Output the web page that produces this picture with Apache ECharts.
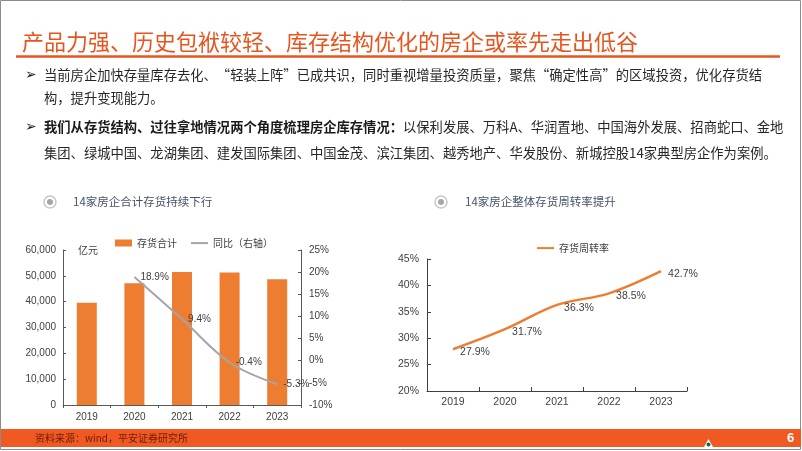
<!DOCTYPE html>
<html><head><meta charset="utf-8">
<script src="https://cdn.jsdelivr.net/npm/echarts@6/dist/echarts.min.js"></script>
<style>html,body{margin:0;padding:0;background:#fff;}#c{width:802px;height:451px;}</style>
</head><body><div id="c"></div>
<script>
// ---- data ----
var years = ['2019', '2020', '2021', '2022', '2023'];
var inventoryTotal = [39600, 47100, 51500, 51300, 48700];   // 亿元
var inventoryYoY = [null, 18.9, 9.4, -0.4, -5.3];            // %
var turnoverRate = [27.9, 31.7, 36.3, 38.5, 42.7];           // %
var leftTicks = { min: 0, max: 60000, interval: 10000 };
var rightTicks = { min: -10, max: 25, interval: 5 };
var turnTicks = { min: 20, max: 45, interval: 5 };

var FONT = '"Liberation Sans", "Noto Sans CJK SC", sans-serif';
var CJK = '"Noto Sans CJK SC", sans-serif';
var ORANGE = '#ED7D31';
var AXIS = '#595959';
var LINE_ICON = 'path://M0,0 M0,2.6 L17,2.6 L17,4.6 L0,4.6 Z M17,7';

var chart = echarts.init(document.getElementById('c'), null, { renderer: 'canvas' });

function txt(x, y, text, style) {
  return { type: 'text', x: x, y: y, style: Object.assign({ text: text, fontFamily: CJK, fontSize: 13, fill: '#262626', verticalAlign: 'middle' }, style || {}) };
}

var graphics = [
  // page border
  { type: 'rect', shape: { x: 0.5, y: 0.5, width: 800, height: 449 }, style: { fill: 'none', stroke: '#8c8c8c', lineWidth: 1 }, z: 0 },
  // title
  txt(22, 42, '产品力强、历史包袱较轻、库存结构优化的房企或率先走出低谷', { fontSize: 22, fill: '#E8541E' }),
  { type: 'line', shape: { x1: 16, y1: 56.5, x2: 780, y2: 56.5 }, style: { stroke: '#E8541E', lineWidth: 2.5 } },
  // bullets
  txt(25, 75, '➢', { fontFamily: '"DejaVu Sans"', fontSize: 14, fill: '#1a1a1a' }),
  txt(44, 75, '当前房企加快存量库存去化、“轻装上阵”已成共识，同时重视增量投资质量，聚焦“确定性高”的区域投资，优化存货结', { fontSize: 13.3 }),
  txt(44, 98, '构，提升变现能力。', { fontSize: 13.3 }),
  txt(25, 127, '➢', { fontFamily: '"DejaVu Sans"', fontSize: 14, fill: '#1a1a1a' }),
  { type: 'text', x: 44, y: 127, style: { text: '{b|我们从存货结构、过往拿地情况两个角度梳理房企库存情况：}{n|以保利发展、万科A、华润置地、中国海外发展、招商蛇口、金地}', verticalAlign: 'middle', fontFamily: CJK, fontSize: 13.3, fill: '#262626',
      rich: { b: { fontFamily: CJK, fontSize: 13.3, fontWeight: 'bold', fill: '#1a1a1a' }, n: { fontFamily: CJK, fontSize: 13.3, fill: '#262626' } } } },
  txt(44, 153, '集团、绿城中国、龙湖集团、建发国际集团、中国金茂、滨江集团、越秀地产、华发股份、新城控股14家典型房企作为案例。', { fontSize: 13.3 }),
  // chart title icons
  { type: 'circle', shape: { cx: 50, cy: 202, r: 6 }, style: { fill: '#fff', stroke: '#c8c8c8', lineWidth: 1.5 } },
  { type: 'circle', shape: { cx: 50, cy: 202, r: 3 }, style: { fill: '#a6a6a6' } },
  txt(73, 202, '14家房企合计存货持续下行', { fontSize: 11.5, fill: '#44546A' }),
  { type: 'circle', shape: { cx: 441, cy: 202, r: 6 }, style: { fill: '#fff', stroke: '#c8c8c8', lineWidth: 1.5 } },
  { type: 'circle', shape: { cx: 441, cy: 202, r: 3 }, style: { fill: '#a6a6a6' } },
  txt(465, 202, '14家房企整体存货周转率提升', { fontSize: 11.5, fill: '#44546A' }),
  // unit
  txt(78, 250, '亿元', { fontSize: 10, fill: '#404040' }),
  // footer
  { type: 'rect', shape: { x: 1, y: 429, width: 800, height: 18 }, style: { fill: '#F05A22' } },
  txt(35, 438, '资料来源：wind，平安证券研究所', { fontSize: 10, fill: '#6b1d08' }),
  txt(787, 438, '6', { fontFamily: FONT, fontSize: 13, fontWeight: 'bold', fill: '#ffffff' }),
  { type: 'polygon', shape: { points: [[704, 447], [713, 447], [708.5, 439]] }, style: { fill: '#ffffff' } },
  { type: 'circle', shape: { cx: 708.5, cy: 444.5, r: 2 }, style: { fill: '#0a6b5a' } }
];

var pctFmt = function (v) { return v + '%'; };

var option = {
  animation: false,
  textStyle: { fontFamily: FONT },
  graphic: graphics,
  legend: [
    { left: 110, top: 233, itemWidth: 17, itemHeight: 7, itemGap: 14,
      data: [{ name: '存货合计', icon: 'rect' }, { name: '同比（右轴）', icon: LINE_ICON }],
      textStyle: { fontFamily: CJK, fontSize: 10, color: '#404040' } },
    { left: 532, top: 238, itemWidth: 17, itemHeight: 7,
      data: [{ name: '存货周转率', icon: LINE_ICON }],
      textStyle: { fontFamily: CJK, fontSize: 10, color: '#404040' } }
  ],
  grid: [
    { left: 63, top: 250, width: 238, height: 155 },
    { left: 427, top: 259, width: 260, height: 132 }
  ],
  xAxis: [
    { type: 'category', gridIndex: 0, data: years,
      axisLine: { lineStyle: { color: AXIS } }, axisTick: { show: true, length: 3, lineStyle: { color: AXIS } },
      axisLabel: { color: '#404040', fontSize: 10, margin: 7 } },
    { type: 'category', gridIndex: 1, data: years,
      axisLine: { lineStyle: { color: '#404040' } }, axisTick: { show: true, inside: true, length: 4, lineStyle: { color: '#404040' } },
      axisLabel: { color: '#404040', fontSize: 10.5, margin: 6 } }
  ],
  yAxis: [
    { type: 'value', gridIndex: 0, min: leftTicks.min, max: leftTicks.max, interval: leftTicks.interval,
      axisLine: { show: true, lineStyle: { color: AXIS } }, axisTick: { show: true, inside: true, length: 3, lineStyle: { color: AXIS } },
      splitLine: { show: false },
      axisLabel: { color: '#404040', fontSize: 10, margin: 7, formatter: function (v) { return v.toLocaleString('en-US'); } } },
    { type: 'value', gridIndex: 0, position: 'right', min: rightTicks.min, max: rightTicks.max, interval: rightTicks.interval,
      axisLine: { show: true, lineStyle: { color: AXIS } }, axisTick: { show: true, inside: true, length: 3, lineStyle: { color: AXIS } },
      splitLine: { show: false },
      axisLabel: { color: '#404040', fontSize: 10, margin: 8, formatter: pctFmt } },
    { type: 'value', gridIndex: 1, min: turnTicks.min, max: turnTicks.max, interval: turnTicks.interval,
      axisLine: { show: true, lineStyle: { color: '#404040' } }, axisTick: { show: true, inside: true, length: 4, lineStyle: { color: '#404040' } },
      splitLine: { show: false },
      axisLabel: { color: '#404040', fontSize: 10.5, margin: 8, formatter: pctFmt } }
  ],
  series: [
    { name: '存货合计', type: 'bar', xAxisIndex: 0, yAxisIndex: 0, data: inventoryTotal, barWidth: 20,
      itemStyle: { color: ORANGE } },
    { name: '同比（右轴）', type: 'line', xAxisIndex: 0, yAxisIndex: 1, data: inventoryYoY, smooth: 0.35,
      symbol: 'circle', symbolSize: 0.1, showSymbol: true, lineStyle: { color: '#A5A5A5', width: 2 }, itemStyle: { color: '#A5A5A5' },
      label: { show: true, position: 'right', distance: 6, color: '#404040', fontSize: 10, formatter: function (p) { return p.value + '%'; } } },
    { name: '存货周转率', type: 'line', xAxisIndex: 1, yAxisIndex: 2, data: turnoverRate, smooth: 0.35,
      symbol: 'circle', symbolSize: 0.1, showSymbol: true, lineStyle: { color: ORANGE, width: 2.5 }, itemStyle: { color: ORANGE },
      label: { show: true, position: 'right', distance: 7, offset: [0, 3], color: '#404040', fontSize: 10.5, formatter: function (p) { return p.value + '%'; } } }
  ]
};
chart.setOption(option);
</script>
</body></html>
